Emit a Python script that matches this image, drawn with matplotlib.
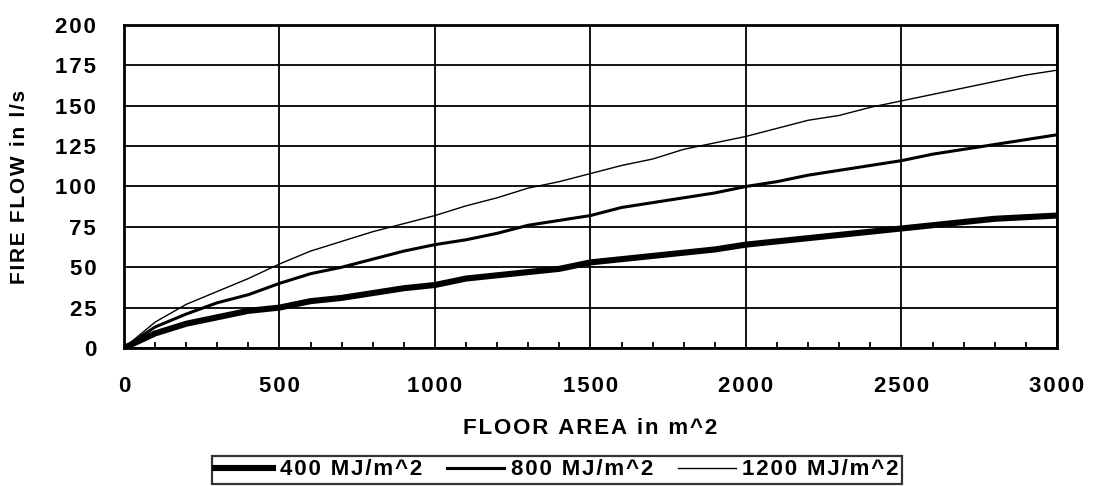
import matplotlib.pyplot as plt
from matplotlib.ticker import MultipleLocator

# 数据
area = [0, 100, 200, 300, 400, 500, 600, 700, 800, 900, 1000, 1100, 1200, 1300, 1400, 1500,
        1600, 1700, 1800, 1900, 2000, 2100, 2200, 2300, 2400, 2500, 2600, 2700, 2800, 2900, 3000]
flow_400 = [0, 9, 15, 19, 23, 25, 29, 31, 34, 37, 39, 43, 45, 47, 49, 53,
            55, 57, 59, 61, 64, 66, 68, 70, 72, 74, 76, 78, 80, 81, 82]
flow_800 = [0, 13, 21, 28, 33, 40, 46, 50, 55, 60, 64, 67, 71, 76, 79, 82,
            87, 90, 93, 96, 100, 103, 107, 110, 113, 116, 120, 123, 126, 129, 132]
flow_1200 = [0, 16, 27, 35, 43, 52, 60, 66, 72, 77, 82, 88, 93, 99, 103, 108,
             113, 117, 123, 127, 131, 136, 141, 144, 149, 153, 157, 161, 165, 169, 172]
labels = ['400 MJ/m^2', '800 MJ/m^2', '1200 MJ/m^2']
x_ticks = [0, 500, 1000, 1500, 2000, 2500, 3000]
y_ticks = [0, 25, 50, 75, 100, 125, 150, 175, 200]


# 字符间加窄空格, 模仿原图的宽字距
def spaced(s):
    return '\u200a'.join(s)


plt.rcParams['font.family'] = ['Liberation Sans', 'DejaVu Sans']
plt.rcParams['font.weight'] = 'bold'

fig = plt.figure(figsize=(11.01, 4.86), dpi=100)
ax = fig.add_axes([0.1126, 0.284, 0.8474, 0.6646])

ax.plot(area, flow_400, color='black', lw=4.4, label=spaced(labels[0]))
ax.plot(area, flow_800, color='black', lw=2.2, label=spaced(labels[1]))
ax.plot(area, flow_1200, color='black', lw=1.0, label=spaced(labels[2]))

ax.set_xlim(0, 3000)
ax.set_ylim(0, 200)
ax.set_xticks(x_ticks, [spaced(str(v)) for v in x_ticks])
ax.set_yticks(y_ticks, [spaced(str(v)) for v in y_ticks])
ax.xaxis.set_minor_locator(MultipleLocator(100))
ax.grid(True, which='major', color='black', lw=1.3)

ax.tick_params(axis='x', which='major', length=0, pad=20, labelsize=16)
ax.tick_params(axis='x', which='minor', direction='in', length=4.3, width=1.3, top=False)
ax.tick_params(axis='y', which='major', length=0, pad=20, labelsize=16)
for lab in ax.get_xticklabels() + ax.get_yticklabels():
    lab.set_fontweight('bold')

for s in ax.spines.values():
    s.set_linewidth(2.0)

ax.set_xlabel(spaced('FLOOR AREA in m^2'), fontsize=16, fontweight='bold', labelpad=15)
ax.set_ylabel(spaced('FIRE FLOW in l/s'), fontsize=15, fontweight='bold', labelpad=19)

leg = fig.legend(loc='lower center', bbox_to_anchor=(0.506, 0.0), ncol=3, frameon=True,
                 fancybox=False, edgecolor='black', fontsize=16, handlelength=2.6,
                 handletextpad=0.3, columnspacing=1.1, borderpad=0.15, borderaxespad=0.1)
leg.get_frame().set_linewidth(1.6)
for t in leg.get_texts():
    t.set_fontweight('bold')

fig.savefig('out.png', dpi=100)
